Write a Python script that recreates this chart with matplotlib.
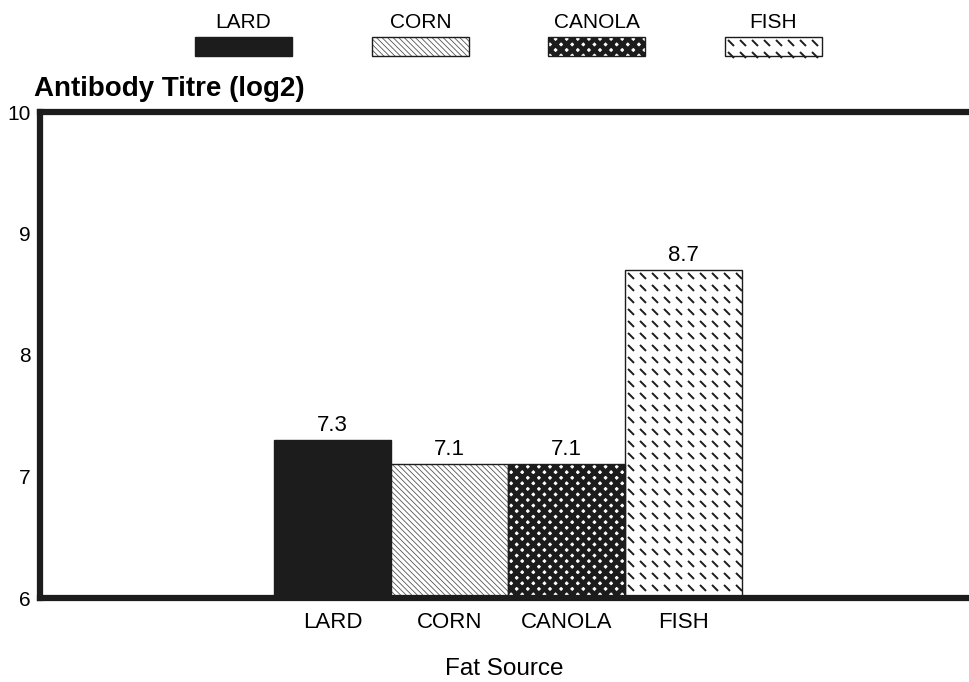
import numpy as np
import matplotlib.pyplot as plt
from matplotlib.patches import Rectangle
from matplotlib.collections import LineCollection

plt.rcParams['font.family'] = ['Liberation Sans', 'DejaVu Sans']
plt.rcParams['hatch.linewidth'] = 0.6

# data
fats = ['LARD', 'CORN', 'CANOLA', 'FISH']
titre = [7.3, 7.1, 7.1, 8.7]
value_labels = ['7.3', '7.1', '7.1', '8.7']
yticks = [6, 7, 8, 9, 10]

BLACK = '#1c1c1c'


def fish_dashes(axis, x0, y0, w, h, clip):
    # short "\" dashes on a grid, spaced in pixels
    tr = axis.transData
    (ax0, ay0), (ax1, ay1) = tr.transform([(x0, y0), (x0 + w, y0 + h)])
    left, right = min(ax0, ax1), max(ax0, ax1)
    low, high = min(ay0, ay1), max(ay0, ay1)
    segs = []
    for py in np.arange(high - 6, low, -12):
        for px in np.arange(left + 6, right, 12):
            segs.append([(px - 3, py + 3), (px + 3, py - 3)])
    segs = [tr.inverted().transform(s) for s in segs]
    lc = LineCollection(segs, colors=BLACK, linewidths=1.4, zorder=3)
    lc.set_clip_path(clip)
    axis.add_collection(lc)


def swatch(axis, kind, x0, y0, w, h):
    if kind == 'LARD':
        axis.add_patch(Rectangle((x0, y0), w, h, facecolor=BLACK, edgecolor=BLACK, lw=1, zorder=2))
    elif kind == 'CORN':
        axis.add_patch(Rectangle((x0, y0), w, h, facecolor='white', edgecolor='#555555',
                                 hatch='\\\\\\\\\\\\', lw=0, zorder=2))
        axis.add_patch(Rectangle((x0, y0), w, h, fill=False, edgecolor=BLACK, lw=1, zorder=4))
    elif kind == 'CANOLA':
        with plt.rc_context({'hatch.linewidth': 3.4}):
            p = Rectangle((x0, y0), w, h, facecolor='white', edgecolor=BLACK,
                          hatch='xxx', lw=0, zorder=2)
            if hasattr(p, 'set_hatch_linewidth'):
                p.set_hatch_linewidth(3.4)
        axis.add_patch(p)
        axis.add_patch(Rectangle((x0, y0), w, h, fill=False, edgecolor=BLACK, lw=1, zorder=4))
    else:
        axis.add_patch(Rectangle((x0, y0), w, h, facecolor='white', lw=0, zorder=2))
        edge = Rectangle((x0, y0), w, h, fill=False, edgecolor=BLACK, lw=1, zorder=4)
        axis.add_patch(edge)
        fish_dashes(axis, x0, y0, w, h, edge)


fig = plt.figure(figsize=(9.69, 6.82), dpi=100)
ax = fig.add_axes([40 / 969, 84 / 682, 929 / 969, 486 / 682])
ax.set_xlim(-2.5, 5.44)
ax.set_ylim(6, 10)

x = np.arange(len(fats))
for i, name in enumerate(fats):
    swatch(ax, name, x[i] - 0.5, 6, 1, titre[i] - 6)
    ax.annotate(value_labels[i], (x[i], titre[i]), xytext=(0, 3), textcoords='offset points',
                ha='center', va='bottom', fontsize=16)

for side in ['left', 'top', 'bottom']:
    ax.spines[side].set_linewidth(4.5)
    ax.spines[side].set_color(BLACK)
    ax.spines[side].set_zorder(5)
ax.spines['right'].set_visible(False)

ax.set_yticks(yticks)
ax.set_yticklabels([str(t) for t in yticks], fontsize=15)
ax.set_xticks(x)
ax.set_xticklabels(fats, fontsize=16)
ax.tick_params(axis='y', length=0, pad=7)
ax.tick_params(axis='x', length=0, pad=10)
ax.set_xlabel('Fat Source', fontsize=17.5, labelpad=18)

fig.text(34 / 969, 1 - 96 / 682, 'Antibody Titre (log2)', fontsize=20, fontweight='bold',
         ha='left', va='baseline')

# legend drawn on a full-figure overlay in pixel units
leg = fig.add_axes([0, 0, 1, 1], facecolor='none')
leg.set_xlim(0, 969)
leg.set_ylim(682, 0)
leg.axis('off')
for name, lx in zip(fats, [195, 372, 548, 725]):
    swatch(leg, name, lx, 37, 97, 19)
    leg.text(lx + 48.5, 22, name, fontsize=15, ha='center', va='center')

fig.savefig('out.png', dpi=100)
